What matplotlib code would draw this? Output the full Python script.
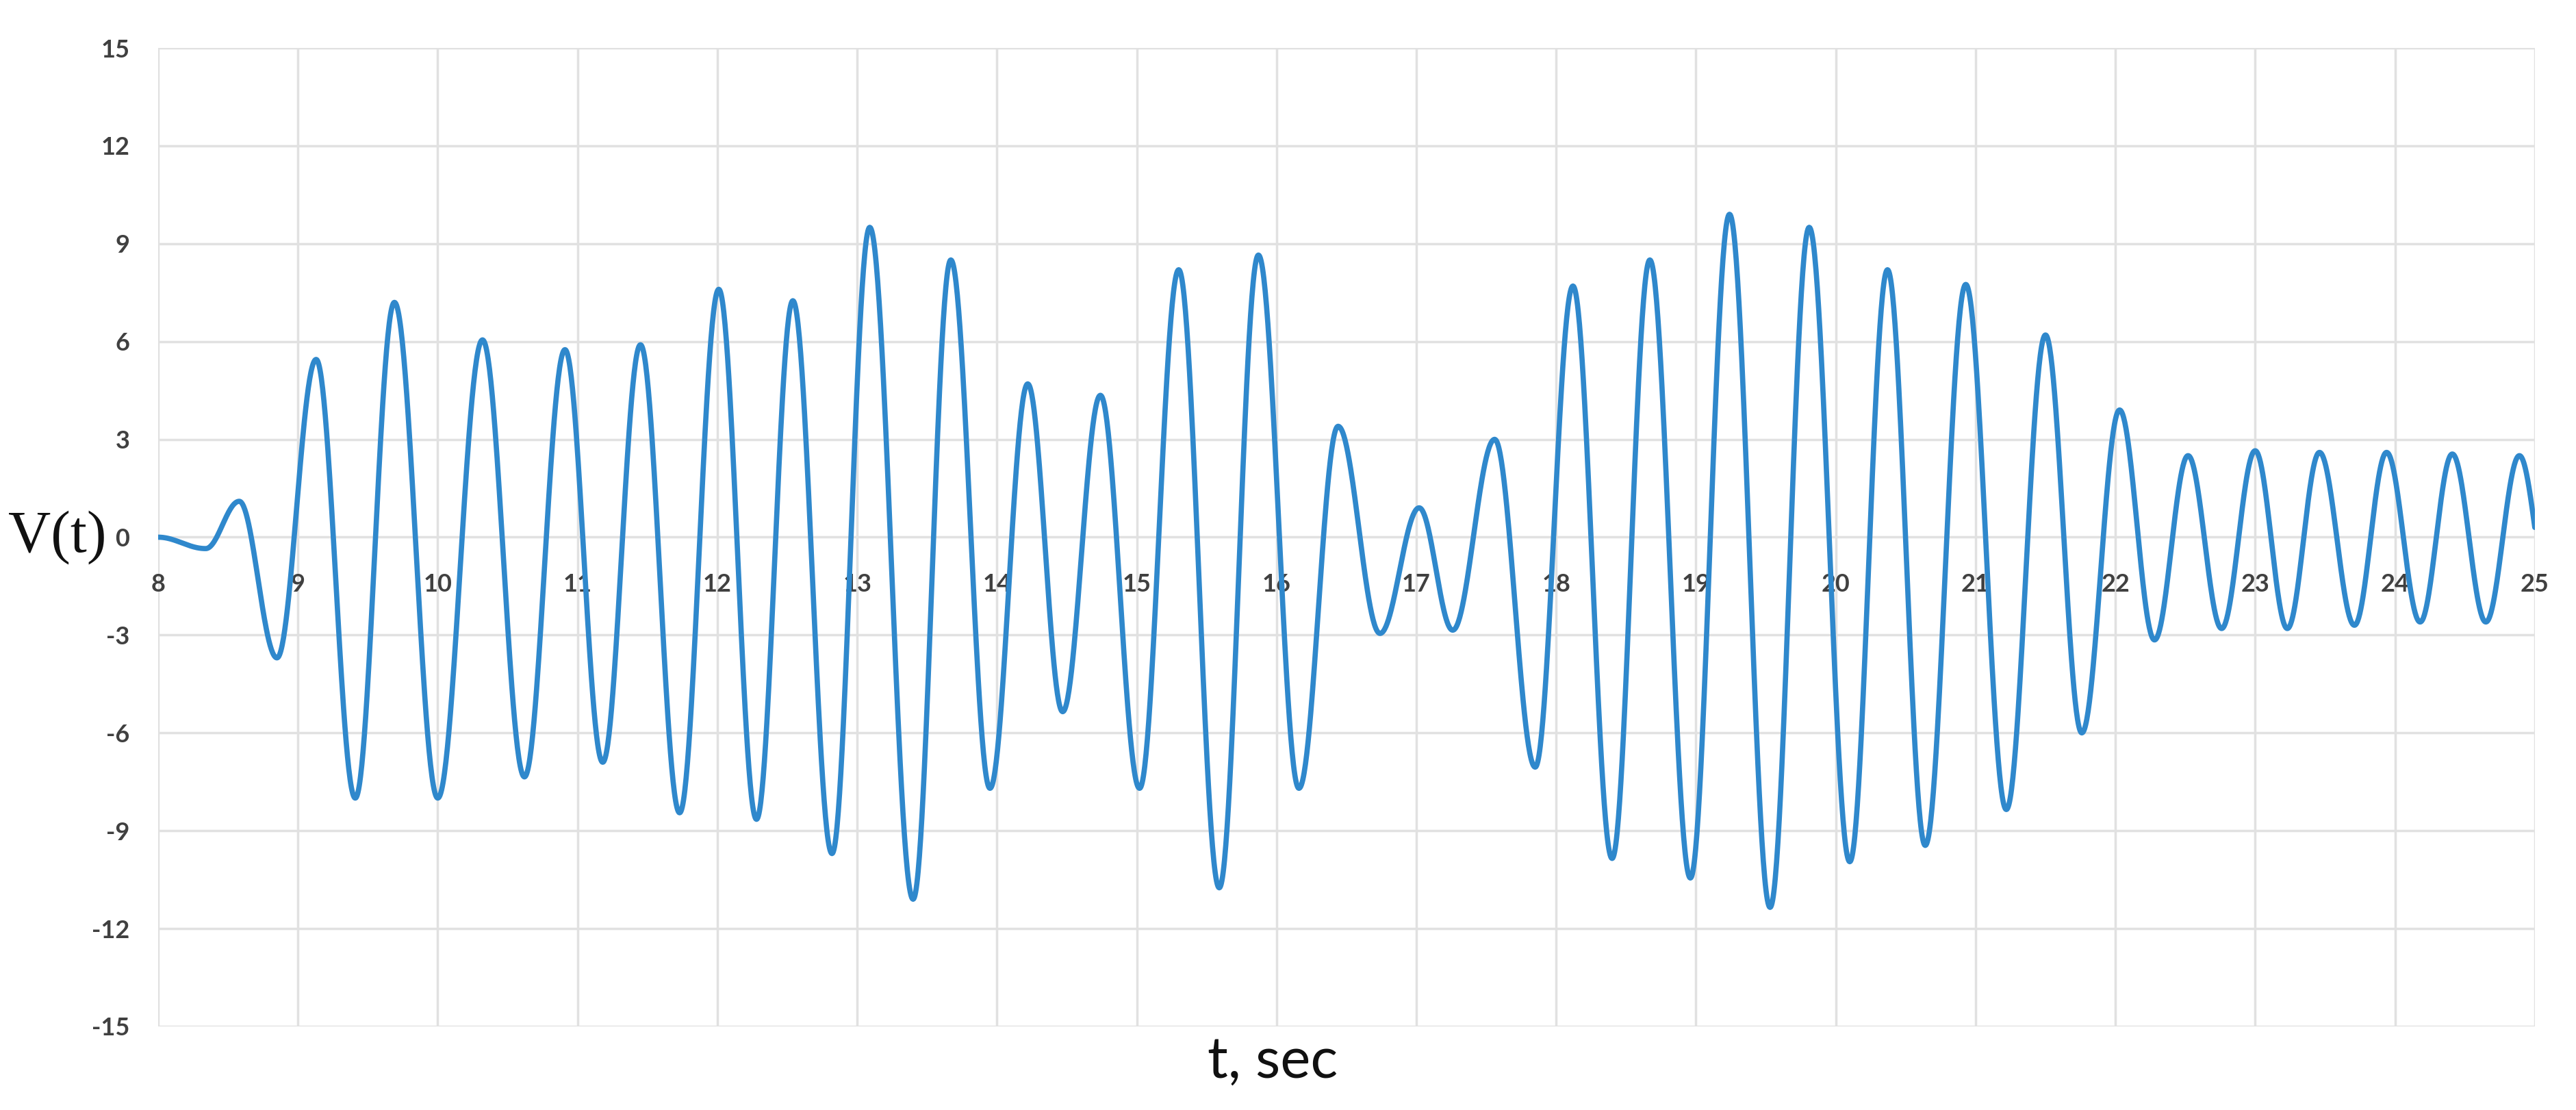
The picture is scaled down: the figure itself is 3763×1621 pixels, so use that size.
import numpy as np
import matplotlib
matplotlib.use("Agg")
import matplotlib.pyplot as plt

plt.rcParams["axes.unicode_minus"] = False

# Extrema of V(t) (time in sec, value)
t_ext = [8.00, 8.34, 8.58, 8.85, 9.13, 9.41, 9.69, 10.00, 10.32, 10.62,
         10.91, 11.18, 11.45, 11.73, 12.01, 12.28, 12.54, 12.82, 13.09, 13.40,
         13.67, 13.95, 14.22, 14.47, 14.74, 15.02, 15.30, 15.59, 15.87, 16.16,
         16.44, 16.74, 17.02, 17.26, 17.56, 17.85, 18.12, 18.40, 18.67, 18.96,
         19.24, 19.53, 19.81, 20.10, 20.37, 20.64, 20.93, 21.22, 21.50, 21.76,
         22.03, 22.28, 22.52, 22.76, 23.00, 23.23, 23.46, 23.71, 23.94, 24.18,
         24.41, 24.65, 24.89, 25.00]
v_ext = [0.0, -0.35, 1.1, -3.7, 5.45, -8.0, 7.2, -8.0, 6.05, -7.35,
         5.75, -6.9, 5.9, -8.45, 7.6, -8.65, 7.25, -9.7, 9.5, -11.1,
         8.5, -7.7, 4.7, -5.35, 4.35, -7.7, 8.2, -10.75, 8.65, -7.7,
         3.4, -2.95, 0.9, -2.85, 3.0, -7.05, 7.7, -9.85, 8.5, -10.45,
         9.9, -11.35, 9.5, -9.95, 8.2, -9.45, 7.75, -8.35, 6.2, -6.0,
         3.9, -3.15, 2.5, -2.8, 2.65, -2.8, 2.6, -2.7, 2.6, -2.6,
         2.55, -2.6, 2.5, 0.3]

x_ticks = list(range(8, 26))
y_ticks = list(range(-15, 16, 3))

# Smooth rendering between the read extrema (half-cosine segments)
tt, vv = [], []
n_seg = len(t_ext) - 1
for i in range(n_seg):
    t0, t1 = t_ext[i], t_ext[i + 1]
    v0, v1 = v_ext[i], v_ext[i + 1]
    s = np.linspace(0, 1, 60, endpoint=(i == n_seg - 1))
    if i == n_seg - 1:
        # final segment is cut by the axis limit: quarter wave
        shape = 1 - np.cos(np.pi / 2 * s)
    else:
        shape = (1 - np.cos(np.pi * s)) / 2
    tt.extend(t0 + (t1 - t0) * s)
    vv.extend(v0 + (v1 - v0) * shape)

fig = plt.figure(figsize=(37.63, 16.21), dpi=100)
ax = fig.add_axes([0.0614, 0.0753, 0.9226, 0.8815])

ax.plot(tt, vv, color="#2f88cc", lw=5.5, solid_capstyle="round", zorder=3)

ax.set_xlim(8, 25)
ax.set_ylim(-15, 15)
ax.set_xticks(x_ticks)
ax.set_yticks(y_ticks)
ax.grid(True, color="#e1e1e1", lw=2.5, zorder=0)
for sp in ax.spines.values():
    sp.set_visible(False)
ax.spines["bottom"].set_position(("data", 0))

ax.tick_params(axis="both", length=0, labelsize=26, labelcolor="#404040")
ax.tick_params(axis="x", pad=38)
ax.tick_params(axis="y", pad=30)
for lab in ax.get_xticklabels() + ax.get_yticklabels():
    lab.set_fontfamily("Lato")
    lab.set_fontweight("bold")

ax.set_ylabel("V(t)", rotation=0, fontsize=62, family="Liberation Serif",
              color="#111111", va="center", ha="center")
ax.yaxis.set_label_coords(-0.0425, 0.5)
ax.set_xlabel("t, sec", fontsize=60, family="Lato", color="#111111",
              va="center", ha="center")
ax.xaxis.set_label_coords(0.469, -0.036)

fig.savefig("out.png", dpi=100, facecolor="white")
